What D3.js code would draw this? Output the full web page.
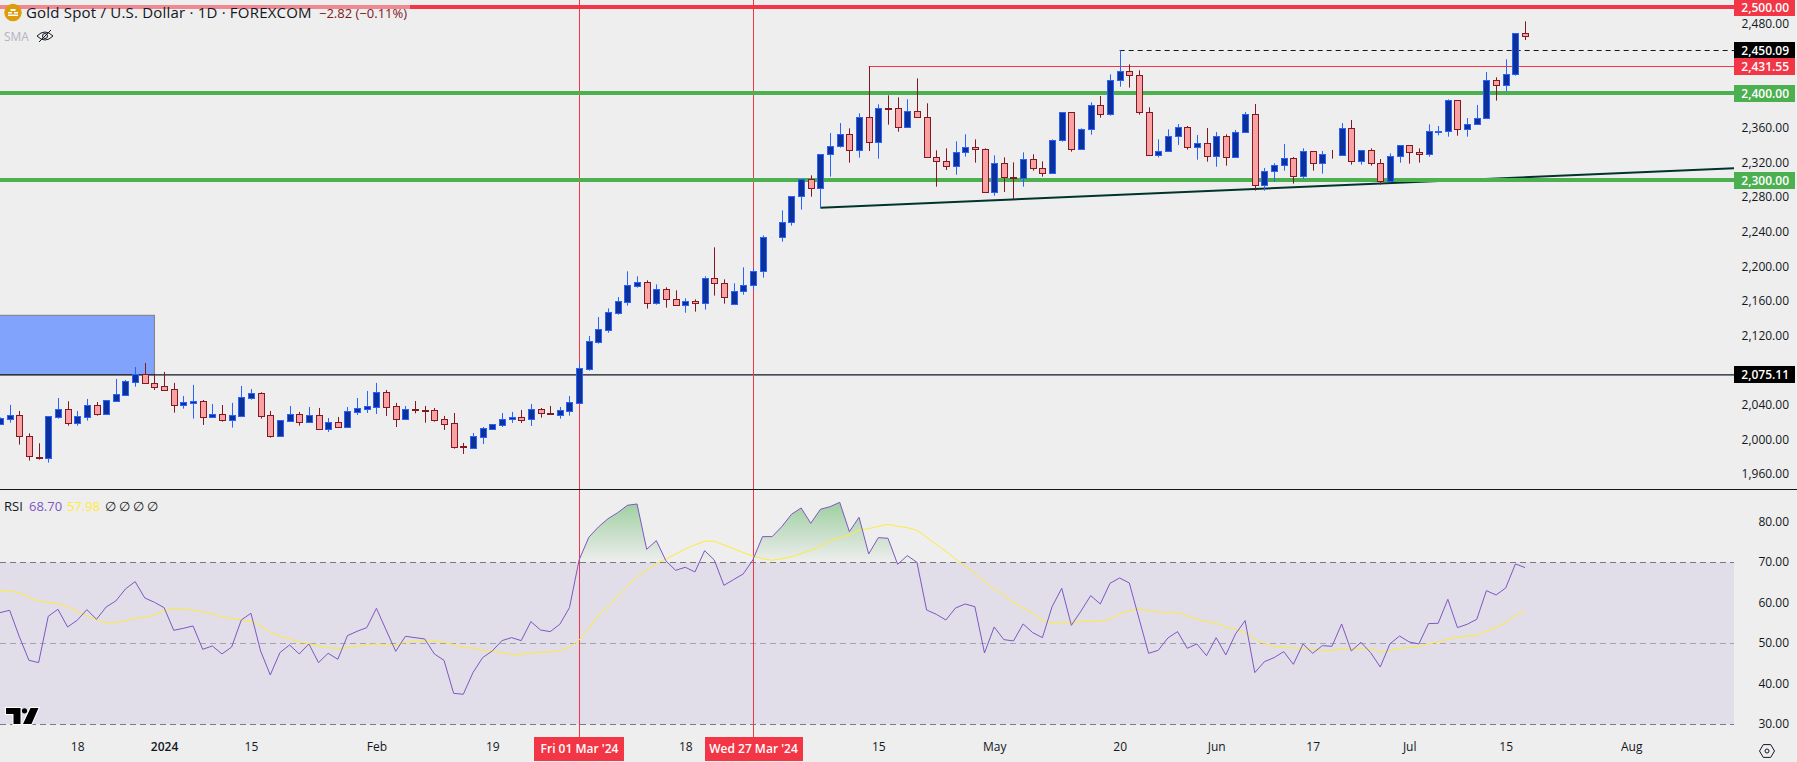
<!DOCTYPE html>
<html>
<head>
<meta charset="utf-8">
<title>Gold Spot / U.S. Dollar</title>
<style>
	html, body { margin:0; padding:0; background:#eeeeee; overflow:hidden; }
	text { font-family:"Open Sans", sans-serif; font-size:12px; fill:#131722; }
</style>
</head>
<body>
<div id="chart"></div>
<script src="https://cdnjs.cloudflare.com/ajax/libs/d3/7.8.5/d3.min.js"></script>
<script type="text/javascript">

// daily candles, index 0 is the first bar at the left edge
var opens = [2018.9,2024.7,2028.5,2004.3,1980.8,1978.9,2027,2035.5,2019.3,2027,2040,2030.4,2045.4,2052.4,2067.4,2076.6,2065.5,2062,2058.5,2040.8,
	2043.2,2044.7,2027,2029.7,2023.5,2028.1,2048.9,2053.9,2028.5,2005,2022.4,2029.7,2021.2,2028.5,2013.1,2020.4,2015.4,2032.8,2036.2,2038.5,
	2055.1,2038.9,2024.7,2035.8,2034.7,2034.3,2023.9,2019.3,1993,1991.2,2003.9,2013.1,2017.7,2023.9,2026.2,2023.9,2035.5,2030.8,2029.3,2033.9,
	2043.2,2082.4,2113.5,2127.4,2147,2159.7,2178.2,2182.1,2157.8,2173.9,2162.4,2155.5,2160.1,2157.8,2186.7,2180.9,2156.7,2171.7,2178.6,2194.8,
	2234,2234,2251.3,2281.4,2301,2290.6,2329.9,2339.1,2353,2334.5,2372.6,2343.7,2383,2383,2361,2379.5,2372.6,2326.4,2321.8,2316,
	2332.2,2337.9,2335.7,2286,2319.5,2303.3,2302.2,2324.1,2313.7,2307.9,2346,2378.4,2335.7,2358.7,2386.5,2376.1,2415.3,2425.7,2421.1,2378.4,
	2328.7,2333.3,2350.7,2361,2338,2342.6,2327.6,2350.7,2326.4,2355.3,2376.1,2294.1,2310.3,2317.2,2325.3,2304.5,2333.4,2319.5,2330,2328.7,
	2359.9,2321.8,2334.5,2319.5,2298.7,2327.6,2340.3,2332.2,2329.9,2356.2,2356.4,2392.2,2358.8,2364.5,2371.4,2415.3,2410.3,2422.3,2469.6];
var highs = [2026,2040.5,2033.5,2007.7,1996.2,2027.4,2048.5,2044.7,2033.5,2047.4,2043.9,2045.8,2070.5,2069.3,2084.3,2088.9,2075.1,2078.6,2065.9,2050.8,
	2063.6,2046.2,2041.6,2040.4,2042.8,2062.4,2058.9,2055.1,2033.5,2022.7,2039.3,2032.4,2038.1,2037,2025.4,2026.6,2038.1,2048.5,2056.6,2065.9,
	2057.8,2042.8,2039.3,2045,2039.3,2037,2027.8,2031.2,1996.6,2008.1,2015,2018.1,2031.2,2032.4,2034.7,2041.6,2037,2039.3,2038.1,2050.8,
	2088.6,2120.1,2142,2152,2165.1,2194.8,2189,2184.4,2179.7,2176.3,2172.8,2163.6,2162.4,2189,2222.5,2185.5,2180.9,2199.4,2198,2236.3,
	2234.2,2265.2,2281.4,2301,2305.6,2329.9,2354.5,2366,2359.9,2377.2,2431.55,2387.6,2398,2395.7,2393.4,2417.6,2388.8,2334.5,2336.8,2344.9,
	2353,2347.2,2336.8,2328.7,2326.4,2320.6,2332.2,2329.9,2321.8,2347.2,2378.4,2378.4,2359.9,2389.9,2397.2,2422.3,2450.09,2433.8,2426.9,2384.2,
	2347.2,2358.7,2364.9,2362.6,2352.2,2360.3,2355.7,2353,2358,2378.8,2388,2314.1,2319.5,2341.8,2326.8,2336.8,2333.4,2333.7,2334.9,2366,
	2369.5,2334.5,2336.8,2324.5,2331,2340.3,2340.3,2336.8,2364.5,2362.6,2393.4,2392.2,2371.8,2386.9,2425,2418.8,2439.6,2469.6,2483.5];
var lows = [2018.9,2020,1994.7,1976.2,1977.3,1973.9,2024.7,2016.6,2016.6,2022.4,2028.1,2030.4,2045.4,2052.4,2061.6,2065.5,2057.8,2056.6,2031.6,2036.2,
	2024.7,2017.4,2027,2021.2,2014.3,2028.1,2046.6,2024.7,2002.7,2005,2020.8,2016.6,2019.7,2011.6,2009.3,2015.4,2015.4,2028.9,2031.2,2030,
	2027.8,2015,2023.5,2030.8,2020,2021.2,2011.6,1990,1983.9,1991.2,1995.4,2012,2015,2019.7,2019.7,2016.2,2025.8,2028.9,2024.7,2028.1,
	2043.2,2080.1,2111.2,2123.9,2144.7,2155.1,2175.9,2151.7,2156.3,2152.8,2155.5,2147,2148.2,2150.5,2166.7,2157.4,2156.7,2167.8,2174,2187.4,
	2234,2229,2247.5,2266,2281,2268.3,2304.1,2337.6,2320.2,2326,2333.7,2324.9,2364.1,2356,2361,2372.6,2326.4,2292.5,2311.8,2306.4,
	2327.2,2320.3,2286,2282.1,2286.4,2277.9,2292.5,2311,2304.1,2307.9,2344.5,2333,2335.7,2352.6,2372.2,2374.5,2408,2406.9,2375.7,2328.7,
	2326.4,2333.3,2340.7,2335.3,2323.7,2321.4,2315.6,2316.8,2326.4,2355.3,2287.9,2287.9,2298.3,2311,2296,2301.8,2311,2307.6,2324.9,2328.7,
	2318,2318,2316.8,2294.9,2297.6,2320.3,2319.1,2320.3,2327.2,2351.8,2350.3,2351.4,2350.3,2364.5,2371.4,2391.9,2402.6,2420.7,2461.9];
var closes = [2025,2028.5,2004.3,1981.2,1978.9,2027.4,2035.5,2019.3,2027.4,2040,2030.4,2045.8,2052.8,2067.8,2076.6,2065.5,2061.6,2058.2,2040.8,2043.5,
	2044.7,2027,2029.7,2023.5,2028.5,2049.3,2053.9,2028.1,2005,2022.7,2029.7,2021.2,2028.5,2013.1,2020.4,2015.4,2033.1,2036.6,2038.9,2055.1,
	2038.5,2024.7,2035.5,2035,2033.9,2023.5,2018.9,1992.3,1992.3,2004.3,2013.5,2018.1,2023.9,2026.2,2023.5,2035.5,2030.8,2030.1,2034.3,2043.5,
	2082.8,2114,2127.8,2147.4,2160.1,2178.6,2182.1,2157.8,2173.9,2162.4,2155.5,2160.1,2157.8,2186.7,2180.9,2164.7,2171.7,2178.6,2194.8,2234,
	2234.2,2251.3,2281.4,2301,2290.6,2329.9,2339.1,2353,2334.5,2372.6,2343.7,2383,2382.6,2361,2379.5,2372.6,2326.4,2321.8,2316,2332.2,
	2337.9,2335.7,2286,2319.5,2303.3,2302.2,2324.1,2313.7,2307.9,2346,2378.4,2335.7,2358.7,2386.5,2376.1,2415.3,2425.7,2421.1,2378.4,2328.7,
	2333.3,2350.7,2361,2338,2342.6,2327.6,2350.7,2326.4,2355.3,2376.1,2294.1,2310.3,2317.2,2325.3,2304.5,2333.4,2319.5,2329.9,2329.7,2359.9,
	2321.8,2334.5,2319.5,2298.7,2327.6,2340.3,2332.2,2329.9,2356.4,2356.6,2392.2,2358.8,2364.5,2371.4,2415.3,2410.3,2422.3,2469.6,2466.1];

// rsi pane
var rsiValues = [57.57,58.15,51.65,45.8,45.23,56.67,58.4,54.03,55.68,58.31,55.93,58.97,60.45,63.42,65.23,61.19,60.12,58.81,53.21,53.7,
	54.28,48.52,49.34,47.37,49.09,55.76,57.41,48.1,42.18,47.7,49.59,47.37,49.84,45.23,47.53,46.05,51.89,52.96,53.87,58.64,
	53.29,48.02,51.73,51.4,51.07,47.37,45.8,37.65,37.41,42.76,46.46,48.1,50.66,51.4,50.66,55.35,53.29,52.88,54.69,58.81,
	70.58,76.17,78.72,80.78,82.26,84.07,84.4,73.21,75.35,70.33,68.02,68.77,67.61,72.88,70.58,64.32,65.72,67.12,70.58,76.34,
	76.34,78.81,81.85,83.42,79.63,83.09,83.74,84.81,77.57,81.11,72.06,76.09,75.93,69.51,71.65,70,58.23,57.16,55.76,58.72,
	59.71,59.05,47.61,54.03,50.91,50.58,54.77,52.63,51.4,59.05,63.58,54.44,57.98,61.77,59.71,64.81,66.13,64.9,56.17,47.53,
	48.27,51.32,52.88,48.77,49.84,46.95,51.4,47.12,52.3,55.6,42.76,45.47,46.46,47.94,44.81,49.84,47.53,49.42,49.26,54.77,
	48.1,50.25,47.7,44.16,49.84,51.81,50.33,49.84,54.86,54.94,60.86,53.87,54.69,55.93,63,61.93,63.66,69.59,68.7];
var rsiMa = [63,62.92,62.51,61.36,60.37,60.12,59.79,58.97,57.9,56.83,55.84,55.1,55.19,55.6,56.17,56.34,57,58.07,58.64,58.4,
	58.15,57.74,57.33,56.5,56.09,55.76,55.43,54.36,52.72,51.81,51.07,50.33,49.92,49.34,48.93,48.68,48.93,49.34,49.67,49.84,
	49.67,49.59,50.25,50.49,50.58,50.49,50.33,49.67,49.01,48.77,48.35,48.02,47.7,47.28,47.2,47.7,47.78,47.86,48.19,49.01,
	50.82,53.7,57,59.05,61.52,64.16,66.46,68.11,69.75,70.82,72.06,73.29,74.28,75.19,75.19,74.28,73.37,72.39,71.56,70.91,
	70.49,70.91,71.32,72.14,72.96,73.87,75.35,76.17,76.75,77.98,78.31,78.89,79.38,78.89,78.56,77.9,76.17,74.44,72.72,70.82,
	69.09,67.28,65.23,63.42,61.93,60.12,58.64,57.41,55.68,55.02,55.19,55.19,55.35,55.51,55.51,55.93,57.24,58.07,58.4,58.15,
	57.65,57.65,57.65,56.83,55.93,55.43,55.02,54.03,53.37,52.63,51.07,49.92,49.26,49.09,48.85,48.77,48.44,48.27,48.27,48.68,
	48.68,48.77,48.77,47.78,48.19,48.77,48.93,49.18,49.84,50.33,51.07,51.48,51.81,51.89,53.05,53.87,55.1,56.91,57.98];

// 2,400 and 2,440 sit under the tags in the picture, so they are left out
var priceTicks = [1960,2000,2040,2080,2120,2160,2200,2240,2280,2320,2360,2480];
var rsiTicks = [30,40,50,60,70,80];

var timeTickIndex = [8,17,26,39,51,71,91,103,116,126,136,146,156,169];
var timeTickLabels = ['18','2024','15','Feb','19','18','15','May','20','Jun','17','Jul','15','Aug'];

var markedBars = [60,78];
var markedLabels = ["Fri 01 Mar '24","Wed 27 Mar '24"];

var resistance = 2500, greenLevels = [2400,2300], swingHigh = 2431.55, prevHigh = 2450.09, pivot = 2075.11;
var priceTags = [2500,2450.09,2431.55,2400,2300,2075.11];
var tagColors = ['#f23645','#000000','#f23645','#4caf50','#4caf50','#000000'];

var trendBars = [85,179.65], trendPrices = [2268.3,2313.8];
var boxBars = [-1,16], boxPrices = [2144,2075.4];

var W = 1797, H = 762, plotW = 1734, bg = '#eeeeee',
	upFill = '#0c3299', upLine = '#2962ff', downFill = '#faa1a4', downLine = '#801922';

var svg = d3.select('#chart').append('svg').attr('width',W).attr('height',H).style('display','block');

var x = d3.scaleLinear().domain([0,179.65]).range([0,plotW]),
	y = d3.scaleLinear().domain([2508.1,1943.4]).range([0,489]),
	yr = d3.scaleLinear().domain([70,30]).range([562.3,724.3]);

function px(i){ return Math.round(x(i)); }

// ---- axes first, tags sit on top of them
svg.append('g').attr('transform','translate('+(plotW+55)+',-0.5)')
	.call(d3.axisLeft(y).tickValues(priceTicks).tickFormat(d3.format(',.2f')).tickSize(0).tickPadding(0))
	.call(function(g){ g.select('.domain').remove(); g.selectAll('text').style('font-size','12px').style('fill','#131722').style('font-family','"Open Sans", sans-serif'); });

svg.append('g').attr('transform','translate('+(plotW+55)+',-0.5)')
	.call(d3.axisLeft(yr).tickValues(rsiTicks).tickFormat(d3.format('.2f')).tickSize(0).tickPadding(0))
	.call(function(g){ g.select('.domain').remove(); g.selectAll('text').style('font-size','12px').style('fill','#131722').style('font-family','"Open Sans", sans-serif'); });

svg.append('g').attr('transform','translate(0,742)')
	.call(d3.axisBottom(x).tickValues(timeTickIndex).tickFormat(function(d,i){ return timeTickLabels[i]; }).tickSize(0).tickPadding(0))
	.call(function(g){
		g.select('.domain').remove();
		g.selectAll('text').style('font-size','12px').style('fill','#131722').style('font-family','"Open Sans", sans-serif')
			.style('font-weight',function(d){ return d==17 ? 600 : 400; });
	});

// ---- main pane
svg.append('rect')
	.attr('x',x(boxBars[0])).attr('y',y(boxPrices[0]))
	.attr('width',x(boxBars[1])-x(boxBars[0])).attr('height',y(boxPrices[1])-y(boxPrices[0]))
	.attr('fill','#82a3fb').attr('stroke','#808080').attr('stroke-width',1);

svg.append('line').attr('x1',0).attr('x2',plotW).attr('y1',y(pivot)).attr('y2',y(pivot))
	.attr('stroke','#131722').attr('stroke-width',1.2);

svg.selectAll('.vline').data(markedBars).enter().append('line').attr('class','vline')
	.attr('x1',function(d){ return px(d)+.5; }).attr('x2',function(d){ return px(d)+.5; })
	.attr('y1',0).attr('y2',737).attr('stroke','#f23645').attr('stroke-width',1);

svg.append('path').attr('fill','none').attr('stroke','#00332a').attr('stroke-width',2)
	.attr('d',d3.line().x(function(d){ return x(d); }).y(function(d,i){ return y(trendPrices[i]); })(trendBars));

svg.selectAll('.green').data(greenLevels).enter().append('line').attr('class','green')
	.attr('x1',0).attr('x2',plotW).attr('y1',function(d){ return Math.floor(y(d)); }).attr('y2',function(d){ return Math.floor(y(d)); })
	.attr('stroke','#4caf50').attr('stroke-width',4);

svg.append('line').attr('x1',0).attr('x2',plotW).attr('y1',Math.floor(y(resistance))).attr('y2',Math.floor(y(resistance)))
	.attr('stroke','#f23645').attr('stroke-width',4);

svg.append('line').attr('x1',x(90)).attr('x2',plotW).attr('y1',Math.round(y(swingHigh))+.5).attr('y2',Math.round(y(swingHigh))+.5)
	.attr('stroke','#f23645').attr('stroke-width',1);

svg.append('line').attr('x1',x(116)).attr('x2',plotW).attr('y1',Math.round(y(prevHigh))+.5).attr('y2',Math.round(y(prevHigh))+.5)
	.attr('stroke','#131722').attr('stroke-width',1).attr('stroke-dasharray','5,4');

// candles
var candle = svg.append('g').selectAll('g').data(opens).enter().append('g');

candle.append('line')
	.attr('x1',function(d,i){ return px(i)+.5; }).attr('x2',function(d,i){ return px(i)+.5; })
	.attr('y1',function(d,i){ return y(highs[i]); }).attr('y2',function(d,i){ return y(lows[i]); })
	.attr('stroke',function(d,i){ return closes[i]>=d ? upLine : downLine; }).attr('stroke-width',1);

candle.append('rect')
	.attr('x',function(d,i){ return px(i)-2.5; }).attr('width',6)
	.attr('y',function(d,i){ return Math.round(y(Math.max(d,closes[i])))+.5; })
	.attr('height',function(d,i){ return Math.round(y(Math.min(d,closes[i])))-Math.round(y(Math.max(d,closes[i]))); })
	.attr('fill',function(d,i){ return closes[i]>=d ? upFill : downFill; })
	.attr('stroke',function(d,i){ return closes[i]>=d ? upLine : downLine; }).attr('stroke-width',1);

// price tags on the scale
var tag = svg.selectAll('.tag').data(priceTags).enter().append('g').attr('class','tag');
tag.append('rect').attr('x',plotW).attr('width',61).attr('height',17)
	.attr('y',function(d){ return Math.floor(y(d))-8; })
	.attr('fill',function(d,i){ return tagColors[i]; });
tag.append('text').attr('x',plotW+55).attr('y',function(d){ return Math.floor(y(d))+.5; }).attr('dy','.35em')
	.attr('text-anchor','end').style('fill','#ffffff').style('font-weight',600).text(d3.format(',.2f'));

// header
svg.append('rect').attr('x',0).attr('y',0).attr('width',410).attr('height',24).attr('fill',bg).attr('opacity',.45);
svg.append('circle').attr('cx',13).attr('cy',12.5).attr('r',8.7).attr('fill','#dd9c0b');
svg.append('path').attr('fill','#ffffff').attr('d','M8,12h4v1.5h-4zM14,12h4v1.5h-4zM10.5,9h5v2h-5zM8,14.5h10v1.5h-10z');
svg.append('text').attr('x',26).attr('y',18).style('font-size','15px').style('letter-spacing','.2px').text('Gold Spot / U.S. Dollar · 1D · FOREXCOM');
svg.append('text').attr('x',319).attr('y',18).style('font-size','13px').style('fill','#801922').text('−2.82 (−0.11%)');
svg.append('text').attr('x',4).attr('y',41).style('font-size','12px').style('fill','#b2b5be').text('SMA');
var eye = svg.append('g').attr('transform','translate(45,36)').attr('fill','none').attr('stroke','#131722').attr('stroke-width',1);
eye.append('path').attr('d','M-8,0Q0,-8 8,0Q0,8 -8,0Z');
eye.append('circle').attr('r',2.5);
eye.append('line').attr('x1',-6).attr('y1',6).attr('x2',6).attr('y2',-6);

// ---- rsi pane
svg.append('line').attr('x1',0).attr('x2',W).attr('y1',489.5).attr('y2',489.5).attr('stroke','#131722').attr('stroke-width',1);

svg.append('rect').attr('x',0).attr('width',plotW).attr('y',yr(70)).attr('height',yr(30)-yr(70)).attr('fill','#7e57c2').attr('opacity',.1);

var defs = svg.append('defs');
var grad = defs.append('linearGradient').attr('id','obFill').attr('gradientUnits','userSpaceOnUse')
	.attr('x1',0).attr('x2',0).attr('y1',yr(85)).attr('y2',yr(70));
grad.append('stop').attr('offset',0).attr('stop-color','#4caf50').attr('stop-opacity',.5);
grad.append('stop').attr('offset',1).attr('stop-color','#4caf50').attr('stop-opacity',0);
defs.append('clipPath').attr('id','obClip').append('rect').attr('x',0).attr('y',490).attr('width',plotW).attr('height',yr(70)-490);

svg.append('path').attr('clip-path','url(#obClip)').attr('fill','url(#obFill)')
	.attr('d',d3.area().x(function(d,i){ return x(i); }).y0(yr(70)).y1(function(d){ return yr(d); })(rsiValues));

svg.selectAll('.rsiband').data([70,50,30]).enter().append('line').attr('class','rsiband')
	.attr('x1',0).attr('x2',plotW).attr('y1',function(d){ return Math.round(yr(d))+.5; }).attr('y2',function(d){ return Math.round(yr(d))+.5; })
	.attr('stroke','#787b86').attr('stroke-opacity',function(d){ return d==50 ? .6 : 1; }).attr('stroke-dasharray','6,4');

svg.selectAll('.vlow').data(markedBars).enter().append('line').attr('class','vlow')
	.attr('x1',function(d){ return px(d)+.5; }).attr('x2',function(d){ return px(d)+.5; })
	.attr('y1',490).attr('y2',737).attr('stroke','#f23645').attr('stroke-width',1);

svg.append('path').attr('fill','none').attr('stroke','#ffeb3b').attr('stroke-width',1)
	.attr('d',d3.line().x(function(d,i){ return x(i); }).y(function(d){ return yr(d); })(rsiMa));
svg.append('path').attr('fill','none').attr('stroke','#7e57c2').attr('stroke-width',1)
	.attr('d',d3.line().x(function(d,i){ return x(i); }).y(function(d){ return yr(d); })(rsiValues));

// rsi legend
svg.append('text').attr('x',4).attr('y',511).style('font-size','13px').text('RSI');
svg.append('text').attr('x',29).attr('y',511).style('font-size','13px').style('fill','#7e57c2').text(d3.format('.2f')(rsiValues[rsiValues.length-1]));
svg.append('text').attr('x',67).attr('y',511).style('font-size','13px').style('fill','#ffeb3b').text(d3.format('.2f')(rsiMa[rsiMa.length-1]));
svg.selectAll('.nul').data([110,124,138,152]).enter().append('text').attr('class','nul')
	.attr('x',function(d){ return d; }).attr('y',511).attr('text-anchor','middle').style('font-size','13px').text('∅');

// tradingview mark
var logo = svg.append('g').attr('transform','translate(5.5,707)');
logo.append('path').attr('d','M0.5,1H15V17H8V7H0.5ZM25,1H33L26,17H17.5Z').attr('fill','#000000').attr('stroke','#ffffff').attr('stroke-width',2).attr('paint-order','stroke');
logo.append('circle').attr('cx',19).attr('cy',3.8).attr('r',2.6).attr('fill','#000000');

// date tags
var mark = svg.selectAll('.mark').data(markedBars).enter().append('g').attr('class','mark');
mark.append('rect').attr('y',737).attr('height',24).attr('fill','#f23645')
	.attr('x',function(d,i){ return i==0 ? px(d)-45 : px(d)-48; })
	.attr('width',function(d,i){ return i==0 ? 90 : 98; });
mark.append('text').attr('x',function(d){ return px(d)+.5; }).attr('y',749).attr('dy','.35em').attr('text-anchor','middle')
	.style('fill','#ffffff').style('font-weight',600).text(function(d,i){ return markedLabels[i]; });

// settings glyph
var gear = svg.append('g').attr('transform','translate(1767,751)').attr('fill','none').attr('stroke','#131722').attr('stroke-width',1);
gear.append('path').attr('d','M-7.5,0L-3.7,-6.4H3.7L7.5,0L3.7,6.4H-3.7Z');
gear.append('circle').attr('r',2);

</script>
</body>
</html>
